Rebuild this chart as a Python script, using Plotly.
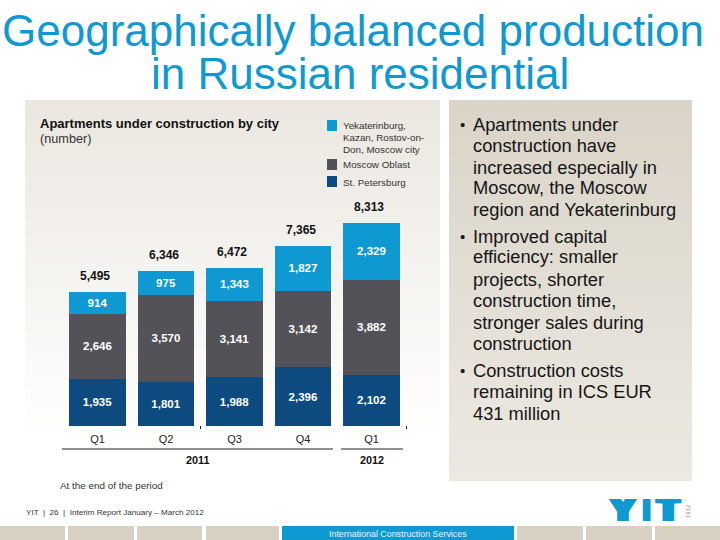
import plotly.graph_objects as go

quarters = ["Q1", "Q2", "Q3", "Q4", "Q1"]
st_petersburg = [1935, 1801, 1988, 2396, 2102]
moscow_oblast = [2646, 3570, 3141, 3142, 3882]
yekaterinburg = [914, 975, 1343, 1827, 2329]
totals = [5495, 6346, 6472, 7365, 8313]
series_names = ["St. Petersburg", "Moscow Oblast", "Yekaterinburg, Kazan, Rostov-on-Don, Moscow city"]
title_lines = ["Geographically balanced production", "in Russian residential"]

W, H = 720, 540
BLUE = "#0f99d3"; GREY = "#535258"; NAVY = "#0c4a80"; TAN = "#d8d1c3"
SANS = "Liberation Sans"


def px(x): return x / W
def py(y): return 1 - y / H


fig = go.Figure()
xs = list(range(5))
for name, vals, col in zip(series_names, [st_petersburg, moscow_oblast, yekaterinburg], [NAVY, GREY, BLUE]):
    fig.add_bar(x=xs, y=vals, name=name, marker=dict(color=col, line_width=0),
                text=[f"<b>{v:,}</b>" for v in vals], textposition="inside", insidetextanchor="middle",
                textangle=0, constraintext="none",
                textfont=dict(family=SANS, size=11.5, color="white"), showlegend=False)

shapes = []


def rect(x0, y0, x1, y1, col, layer="below"):
    shapes.append(dict(type="rect", xref="paper", yref="paper", x0=px(x0), x1=px(x1), y0=py(y0), y1=py(y1),
                       fillcolor=col, line_width=0, layer=layer))


def mix(a, b, t):
    return "rgb(%d,%d,%d)" % tuple(round(a[i] + (b[i] - a[i]) * t) for i in range(3))


# left panel: tan at top fading to white
for i in range(0, 340, 4):
    rect(25, 100 + i, 440, 104 + i, mix((235, 231, 224), (255, 255, 255), i / 336))
# right panel: darker at top, lighter at bottom
for i in range(0, 381, 4):
    rect(449, 100 + i, 692, min(104 + i, 481), mix((218, 212, 200), (236, 233, 226), i / 380))
# footer tabs
for a, b in [(0, 65), (68, 134), (137, 202), (206, 279), (517, 583), (586, 652), (655, 720)]:
    rect(a, 526, b, 540, TAN)
rect(282, 526, 514, 540, BLUE)
# legend swatches
rect(327, 120, 337, 131, BLUE)
rect(327, 159, 337, 170, GREY)
rect(327, 176, 337, 187, NAVY)


def hline(x0, x1, y):
    shapes.append(dict(type="line", xref="paper", yref="paper", x0=px(x0), x1=px(x1), y0=py(y), y1=py(y),
                       line=dict(color="#222222", width=1)))


hline(62, 333, 449)
hline(341, 403, 449)
for x in (200.5, 406.5):
    shapes.append(dict(type="line", xref="paper", yref="paper", x0=px(x), x1=px(x), y0=py(426), y1=py(429),
                       line=dict(color="#222222", width=1)))

ann = []


def txt(s, x, y, size, color="#222222", anchor="left", bold=False, family=SANS, **kw):
    # left-anchored annotations carry about 2px of inner padding
    x0 = x - 2 if anchor == "left" else x
    ann.append(dict(text=f"<b>{s}</b>" if bold else s, x=px(x0), y=py(y), xref="paper", yref="paper",
                    xanchor=anchor, yanchor="middle", showarrow=False, align=anchor,
                    font=dict(family=family, size=size, color=color, **kw)))


# totals above the stacks, positioned through the data axes
for i, v in zip(xs, totals):
    ann.append(dict(text=f"<b>{v:,}</b>", x=i - 0.03, y=v, xref="x", yref="y", yshift=16, xanchor="center",
                    yanchor="middle", showarrow=False, font=dict(family=SANS, size=12, color="#111111")))

txt(title_lines[0], 353, 30, 44, BLUE, "center")
txt(title_lines[1], 360, 73, 44, BLUE, "center")
txt("Apartments under construction by city", 40, 123.5, 13, "#111111", bold=True)
txt("(number)", 40, 139, 12.7, "#333333")
for s, y in [("Yekaterinburg,", 125), ("Kazan, Rostov-on-", 137), ("Don, Moscow city", 149),
             ("Moscow Oblast", 164.5), ("St. Petersburg", 182)]:
    txt(s, 343, y, 9.8, "#333333")
for s, x in [("2011", 197), ("2012", 372)]:
    txt(s, x, 460, 10.8, "#111111", "center", bold=True)
txt("At the end of the period", 60, 485.5, 9.9, "#333333")
txt("YIT  |  26  |  Interim Report January – March 2012", 26, 512, 8.1, "#333333")
txt("International Construction Services", 398, 533.5, 8.9, "#e8f4fa", "center")
# logo: each letter thickened sideways to the heavy, wide shape of the wordmark
for letter, cx, spread in [("Y", 622.5, 3), ("I", 646, 1), ("T", 668.5, 3)]:
    txt(letter, cx, 510.5, 30, BLUE, "center", bold=True, family="DejaVu Sans",
        shadow=f"{spread}px 0 0 {BLUE}, -{spread}px 0 0 {BLUE}")
txt("1912", 688, 511, 6, "#8c8c8c", "center")
ann[-1]["textangle"] = -90

# bullet text, one annotation per line
body = [(True, "Apartments under", 124), (False, "construction have", 145),
        (False, "increased especially in", 167), (False, "Moscow, the Moscow", 188),
        (False, "region and Yekaterinburg", 210),
        (True, "Improved capital", 236), (False, "efficiency: smaller", 257),
        (False, "projects, shorter", 279), (False, "construction time,", 300),
        (False, "stronger sales during", 322), (False, "construction", 343),
        (True, "Construction costs", 370), (False, "remaining in ICS EUR", 391),
        (False, "431 million", 413)]
for bullet, s, y in body:
    txt(s, 473, y, 18.3, "#151515")
    if bullet:
        txt("•", 460, y, 15, "#151515")

fig.update_layout(
    width=W, height=H, margin=dict(l=0, r=0, t=0, b=0), autosize=False,
    paper_bgcolor="white", plot_bgcolor="rgba(0,0,0,0)", barmode="stack", bargap=0.17,
    shapes=shapes, annotations=ann,
    xaxis=dict(domain=[px(63.25), px(405.75)], range=[-0.5, 4.5], tickmode="array", tickvals=xs, ticktext=quarters,
               showgrid=False, zeroline=False, showline=False, ticks="", ticklabelstandoff=5,
               tickfont=dict(family=SANS, size=11, color="#222222")),
    yaxis=dict(domain=[py(426), py(100)], range=[0, 13328], visible=False),
)
fig.write_html("out.html", config={"displayModeBar": False},
               post_script="document.body.style.margin='0';document.documentElement.style.overflow='hidden';")
